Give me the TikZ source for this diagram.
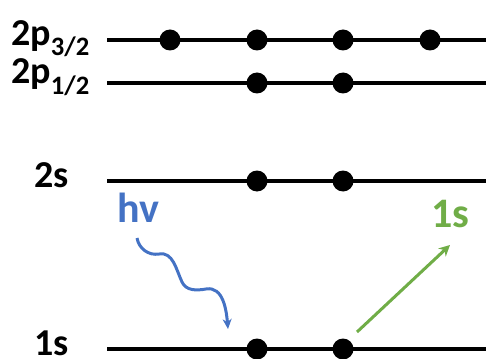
\documentclass[tikz,border=0pt]{standalone}
\usepackage{fontspec}
\setmainfont{Carlito}
\usetikzlibrary{arrows.meta}
\definecolor{photonblue}{RGB}{68,114,196}
\definecolor{augergreen}{RGB}{112,173,71}
\begin{document}
\begin{tikzpicture}[x=1pt, y=-1pt,
  level/.style={line width=3.4pt},
  electron/.style={circle,fill=black,minimum size=21pt,inner sep=0pt},
  lbl/.style={font=\fontsize{38}{40}\selectfont\bfseries,inner sep=0pt},
  big/.style={font=\fontsize{42}{44}\selectfont\bfseries,inner sep=0pt}]
\useasboundingbox (0,0) rectangle (486,358);
% levels
\coordinate (p3a) at (107,40);  \coordinate (p3b) at (486,40);
\coordinate (p1a) at (107,83);  \coordinate (p1b) at (486,83);
\coordinate (sa) at (107,181);  \coordinate (sb) at (486,181);
\coordinate (ka) at (107,349);  \coordinate (kb) at (486,349);
\draw[level] (p3a) -- (p3b);
\draw[level] (p1a) -- (p1b);
\draw[level] (sa) -- (sb);
\draw[level] (ka) -- (kb);
\node[lbl,anchor=base west] (l2p3) at (11,45.5) {2p\textsubscript{3/2}};
\node[lbl,anchor=base west] (l2p1) at (11,84) {2p\textsubscript{1/2}};
\node[lbl,anchor=base west] (l2s) at (34,187) {2s};
\node[lbl,anchor=base west] (l1s) at (34,355) {1s};
% electrons
\node[electron] (e1) at (170,40) {};
\node[electron] (e2) at (257,40) {};
\node[electron] (e3) at (343,40) {};
\node[electron] (e4) at (430,40) {};
\node[electron] (e5) at (257,83) {};
\node[electron] (e6) at (343,83) {};
\node[electron] (e7) at (257,181) {};
\node[electron] (e8) at (343,181) {};
\node[electron] (e9) at (257,349) {};
\node[electron] (e10) at (343,349) {};
% photon
\node[big,text=photonblue,anchor=base west] (hv) at (117,222) {hv};
\coordinate (wa) at (137,238);
\coordinate (wb) at (228,329);
\draw[photonblue,line width=3pt,-{Stealth[length=10pt,width=9pt]}]
  (wa) to[out=-80,in=190] (159,254) to[out=10,in=115] (182,282)
  to[out=-65,in=190] (206,289) to[out=10,in=95] (wb);
% emitted electron
\node[big,text=augergreen,anchor=base west] (out) at (431,227) {1s};
\coordinate (ga) at (357,332);
\coordinate (gb) at (450,245);
\draw[augergreen,line width=3pt,-{Stealth[length=11pt,width=11pt]}] (ga) -- (gb);
\end{tikzpicture}
\end{document}
